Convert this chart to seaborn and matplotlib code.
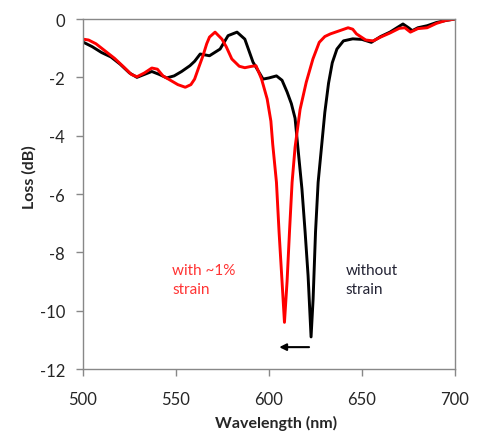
import numpy as np
import pandas as pd
import seaborn as sns
import matplotlib.pyplot as plt

# spectra (wavelength nm, loss dB)
wl_plain = [500, 505, 510, 515, 520, 525, 529, 533, 537, 541, 545, 549, 553, 557.5, 560,
            563, 568, 573.7, 578, 582.8, 587, 591.4, 596.8, 600, 604, 607, 609.7, 612, 614,
            615.6, 617.7, 619.4, 621, 622.6, 623.7, 625, 626.4, 628.5, 630, 632, 634, 636.5,
            640, 645, 650, 655, 660, 665, 670, 672, 675, 677, 680, 685, 690, 695, 700]
loss_plain = [-0.79, -0.95, -1.15, -1.3, -1.55, -1.85, -2.0, -1.9, -1.8, -1.9, -2.02, -1.95,
              -1.8, -1.6, -1.45, -1.2, -1.26, -1.03, -0.57, -0.45, -0.69, -1.48, -2.06, -2.02,
              -1.95, -2.1, -2.5, -2.9, -3.4, -4.46, -5.83, -7.3, -8.8, -10.9, -9.6, -7.3, -5.6,
              -4.2, -3.2, -2.2, -1.5, -1.03, -0.75, -0.68, -0.7, -0.8, -0.6, -0.45, -0.25, -0.17,
              -0.3, -0.4, -0.3, -0.23, -0.12, -0.05, 0.0]

wl_strain = [500, 503, 507, 512, 517, 522, 526, 529, 533, 537, 540, 543, 547, 551, 555, 558,
             560, 562, 564.5, 566.5, 568, 571, 574.7, 577, 580, 584, 587, 590, 593, 596, 599,
             601, 602, 604, 605.4, 607, 608.3, 609.7, 611, 612.4, 614, 616.7, 620, 623.6, 627,
             630, 633, 638, 642.5, 645, 647, 652, 656, 660, 665, 670, 673, 676, 680, 685, 690,
             695, 700]
loss_strain = [-0.69, -0.72, -0.85, -1.1, -1.35, -1.65, -1.9, -1.98, -1.85, -1.68, -1.72, -1.95,
               -2.1, -2.25, -2.34, -2.25, -2.06, -1.7, -1.26, -0.85, -0.62, -0.45, -0.69, -0.95,
               -1.37, -1.62, -1.67, -1.63, -1.6, -2.06, -2.74, -3.5, -4.3, -5.6, -7.3, -9.0,
               -10.4, -9.0, -7.3, -5.6, -4.4, -3.1, -2.17, -1.37, -0.8, -0.6, -0.51, -0.4, -0.3,
               -0.35, -0.51, -0.72, -0.75, -0.62, -0.48, -0.32, -0.3, -0.45, -0.33, -0.3, -0.15,
               -0.05, 0.0]

x_ticks = [500, 550, 600, 650, 700]
y_ticks = [0, -2, -4, -6, -8, -10, -12]

sns.set_style("white")
plt.rcParams['font.family'] = ['Lato', 'DejaVu Sans']
plt.rcParams['axes.unicode_minus'] = False

fig = plt.figure(figsize=(4.78, 4.35), dpi=100)
ax = fig.add_axes([0.1736, 0.1494, 0.7784, 0.8046])

sns.lineplot(x=wl_plain, y=loss_plain, color="black", lw=2.1, ax=ax)
sns.lineplot(x=wl_strain, y=loss_strain, color="#ff0000", lw=2.1, ax=ax)

ax.set_xlim(500, 700)
ax.set_ylim(-12, 0)
ax.set_xticks(x_ticks)
ax.set_yticks(y_ticks)
ax.tick_params(axis="both", direction="out", length=5, width=1, color="#888888",
               labelsize=12, bottom=True, left=True)
ax.tick_params(axis="x", pad=11)
ax.tick_params(axis="y", pad=8)
for sp in ax.spines.values():
    sp.set_color("#888888")
    sp.set_linewidth(1)

ax.set_xlabel("Wavelength (nm)", fontsize=11.5, fontweight="bold")
ax.set_ylabel("Loss (dB)", fontsize=11.5, fontweight="bold")
ax.xaxis.set_label_coords(0.52, -0.132)
ax.yaxis.set_label_coords(-0.125, 0.55)

ax.text(548, -8.35, "with ~1%\nstrain", color="#ff3333", fontsize=11, va="top", linespacing=1.5)
ax.text(641, -8.35, "without\nstrain", color="#222233", fontsize=11, va="top", linespacing=1.5)
ax.annotate("", xy=(604, -11.25), xytext=(623, -11.25),
            arrowprops=dict(arrowstyle="-|>", color="black", lw=1.5, mutation_scale=10))

fig.savefig("out.png", dpi=100)
